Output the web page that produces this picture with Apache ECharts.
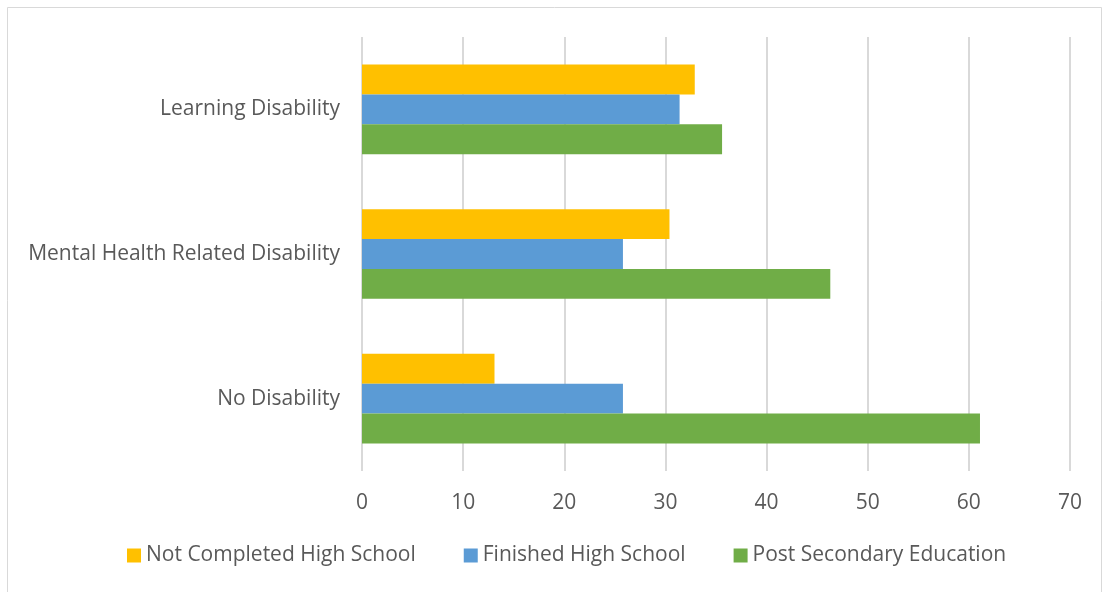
<!DOCTYPE html>
<html>
<head>
<meta charset="utf-8">
<script src="https://cdn.jsdelivr.net/npm/echarts@6/dist/echarts.min.js"></script>
<style>
html,body{margin:0;padding:0;background:#fff;}
#main{width:1103px;height:592px;}
</style>
</head>
<body>
<div id="main"></div>
<script>
// categories bottom -> top (ECharts y category axis grows upward)
var categories = ['No Disability', 'Mental Health Related Disability', 'Learning Disability'];
var notCompleted = [13.1, 30.4, 32.9];
var finishedHS = [25.8, 25.8, 31.4];
var postSecondary = [61.1, 46.3, 35.6];
var seriesNames = ['Not Completed High School', 'Finished High School', 'Post Secondary Education'];

var chart = echarts.init(document.getElementById('main'));
var font = 'Open Sans';
var option = {
    backgroundColor: '#fff',
    animation: false,
    graphic: [{
        type: 'rect',
        shape: {x: 7.5, y: 7.5, width: 1094, height: 600},
        style: {fill: 'none', stroke: '#d9d9d9', lineWidth: 1}
    }],
    legend: {
        data: seriesNames,
        bottom: 21,
        left: 122,
        itemWidth: 14,
        itemHeight: 14,
        itemGap: 48,
        icon: 'rect',
        textStyle: {color: '#595959', fontSize: 21, fontFamily: font}
    },
    grid: {left: 362, right: 33, top: 37, bottom: 121},
    xAxis: {
        type: 'value',
        min: 0, max: 70, interval: 10,
        axisLine: {show: false},
        axisTick: {show: false},
        axisLabel: {color: '#595959', fontSize: 21, fontFamily: font, margin: 22},
        splitLine: {lineStyle: {color: '#d9d9d9', width: 2}}
    },
    yAxis: {
        type: 'category',
        data: categories,
        axisLine: {show: false},
        axisTick: {show: false},
        axisLabel: {color: '#595959', fontSize: 21, fontFamily: font, margin: 22}
    },
    series: [
        {name: seriesNames[0], type: 'bar', data: notCompleted, itemStyle: {color: '#ffc000'},
         barGap: '0%', barCategoryGap: '38%'},
        {name: seriesNames[1], type: 'bar', data: finishedHS, itemStyle: {color: '#5b9bd5'}},
        {name: seriesNames[2], type: 'bar', data: postSecondary, itemStyle: {color: '#70ad47'}}
    ]
};
chart.setOption(option);
</script>
</body>
</html>
